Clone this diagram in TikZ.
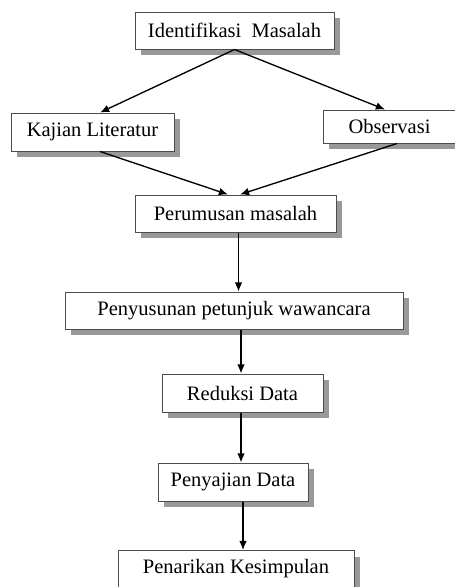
\documentclass[tikz,border=0pt]{standalone}
\usepackage{fontspec}
\setmainfont{Liberation Serif}
\usetikzlibrary{shadows,calc,arrows.meta}
\tikzset{
  kotak/.style={draw=black!70,fill=white,line width=0.6pt,minimum height=37\pxu,inner sep=0pt,font=\fontsize{12.3}{14}\selectfont,
    drop shadow={shadow xshift=3.8pt,shadow yshift=-3.8pt,fill=black!40,opacity=1}},
  panah/.style={-{Latex[length=5.5pt,width=4.6pt]},line width=0.8pt}
}
\newlength{\pxu}\setlength{\pxu}{0.6pt}
\begin{document}
\begin{tikzpicture}[x=0.6pt,y=-0.6pt]
  \useasboundingbox (0,0) rectangle (454,587);
  \node[kotak,minimum width=199\pxu] (ident) at (234.5,30.5) {Identifikasi\ \ Masalah};
  \node[kotak,minimum width=163\pxu,minimum height=38\pxu] (kajian) at (92.5,132) {Kajian Literatur};
  \node[kotak,minimum width=133\pxu,minimum height=33\pxu] (obs) at (389.5,126.5) {Observasi};
  \node[kotak,minimum width=201\pxu] (rumus) at (235.5,213.5) {Perumusan masalah};
  \node[kotak,minimum width=338\pxu] (susun) at (234,310.5) {Penyusunan petunjuk wawancara};
  \node[kotak,minimum width=161\pxu,minimum height=38\pxu] (reduksi) at (242.5,393) {Reduksi Data};
  \node[kotak,minimum width=150\pxu,minimum height=38\pxu] (saji) at (233,482) {Penyajian Data};
  \node[kotak,minimum width=236\pxu] (tarik) at (236,569) {Penarikan Kesimpulan};
  % panah
  \draw[panah] (ident.south) -- ($(kajian.north)+(7.5,0)$);
  \draw[panah] (ident.south) -- ($(obs.north)+(-4.5,0)$);
  \draw[panah] ($(kajian.south)+(7.5,0)$) -- ($(rumus.north)+(-7.5,0)$);
  \draw[panah] ($(obs.south)+(7.5,0)$) -- ($(rumus.north)+(4.5,0)$);
  \draw[panah] ($(rumus.south)+(3,0)$) -- ($(susun.north)+(4.5,0)$);
  \draw[panah] ($(susun.south)+(7,0)$) -- ($(reduksi.north)+(-1.5,0)$);
  \draw[panah] ($(reduksi.south)+(-1.5,0)$) -- ($(saji.north)+(8,0)$);
  \draw[panah] ($(saji.south)+(10,0)$) -- ($(tarik.north)+(7,0)$);
\end{tikzpicture}
\end{document}
